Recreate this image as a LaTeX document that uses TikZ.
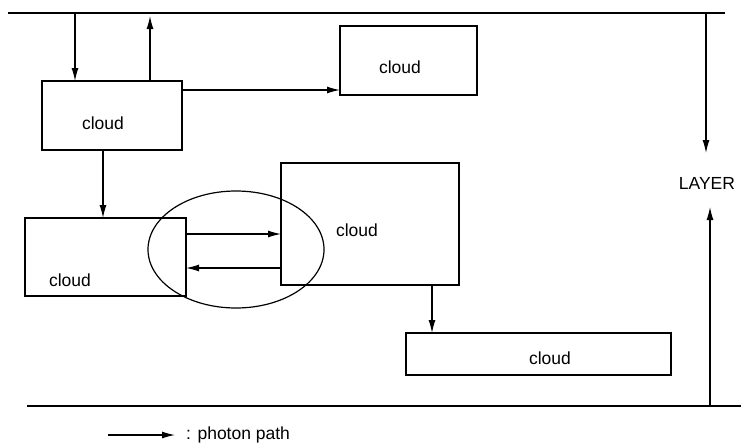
\documentclass[tikz,border=0pt]{standalone}
\usepackage{fontspec}
\setmainfont{Liberation Sans}
\usetikzlibrary{arrows.meta,shapes.geometric}

\tikzset{
  cloudbox/.style={draw,line width=1.2pt,inner sep=0pt,outer sep=0pt},
  photon/.style={line width=1.2pt,-{Latex[length=13pt,width=7pt]}},
  boundary/.style={line width=1.4pt},
  lbl/.style={font=\fontsize{17.5}{19}\selectfont,inner sep=0pt}
}

\begin{document}
\begin{tikzpicture}[x=1pt,y=-1pt]
  \useasboundingbox (0,0) rectangle (741,442);
  % layer boundaries
  \coordinate (topL) at (8,13);
  \coordinate (topR) at (725,13);
  \coordinate (botL) at (27,406);
  \coordinate (botR) at (741,406);
  \draw[boundary] (topL) -- (topR);
  \draw[boundary] (botL) -- (botR);

  % clouds
  \node[cloudbox,minimum width=140pt,minimum height=69pt] (c1) at (112,115.5) {};
  \node[cloudbox,minimum width=137pt,minimum height=69pt] (c2) at (408.5,60.5) {};
  \node[cloudbox,minimum width=161pt,minimum height=78pt] (c3) at (105.5,257) {};
  \node[cloudbox,minimum width=178pt,minimum height=122pt] (c4) at (370,224) {};
  \node[cloudbox,minimum width=265pt,minimum height=42pt] (c5) at (538.5,354) {};
  \node[lbl] (t1) at (103,123) {cloud};
  \node[lbl] (t2) at (400,67) {cloud};
  \node[lbl] (t3) at (70,280) {cloud};
  \node[lbl] (t4) at (357,230) {cloud};
  \node[lbl] (t5) at (550,358) {cloud};

  % exchange region
  \node[ellipse,draw,line width=1.2pt,minimum width=176pt,minimum height=117pt,inner sep=0pt] (ring) at (236,249.5) {};

  % photon paths
  \draw[photon] (topL -| 75,0) -- (c1.north -| 75,0);
  \draw[photon] (c1.north -| 150,0) -- (150,16);
  \draw[photon] (c1.east |- 0,90) -- (c2.west |- 0,90);
  \draw[photon] (c1.south -| 103,0) -- (c3.north -| 103,0);
  \draw[photon] (c3.east |- 0,234) -- (c4.west |- 0,234);
  \draw[photon] (c4.west |- 0,268) -- (c3.east |- 0,268);
  \draw[photon] (c4.south -| 432,0) -- (c5.north -| 432,0);

  % layer
  \node[lbl] (layer) at (707,183) {LAYER};
  \coordinate (dnEnd) at (706,153);
  \coordinate (upEnd) at (710,207);
  \draw[photon] (topR -| dnEnd) -- (dnEnd);
  \draw[photon] (botR -| upEnd) -- (upEnd);

  % legend
  \coordinate (legA) at (108,435);
  \coordinate (legB) at (175,435);
  \draw[photon] (legA) -- (legB);
  \node[lbl,anchor=west] (legtext) at (186,435) {: photon path};
\end{tikzpicture}
\end{document}
